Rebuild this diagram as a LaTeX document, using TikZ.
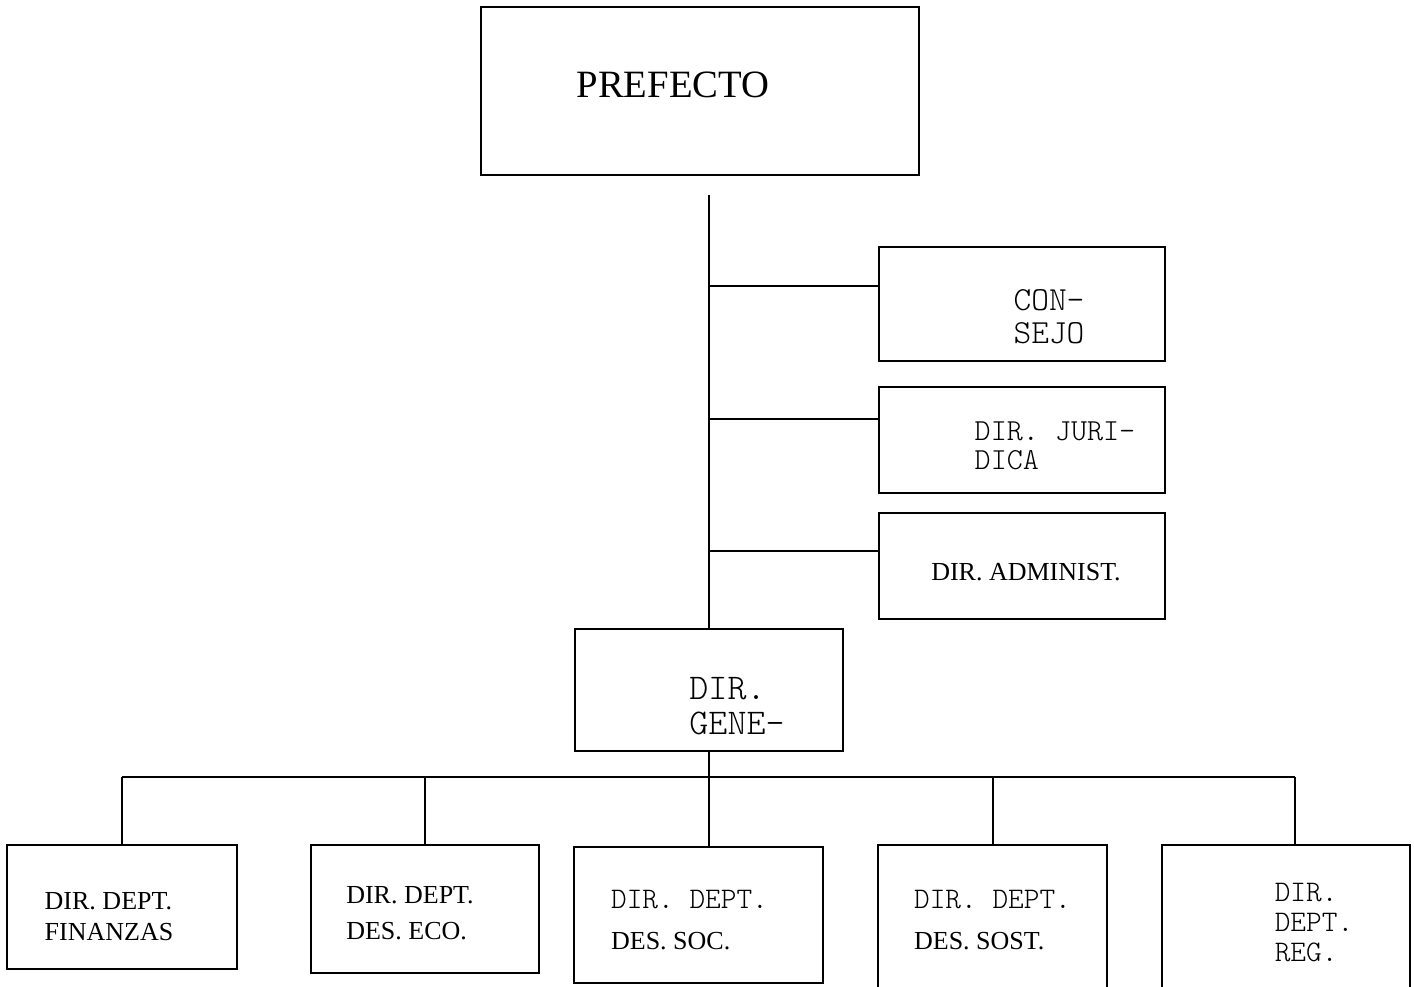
\documentclass[tikz,border=0pt]{standalone}
\usepackage{fontspec}
\setmainfont{Liberation Serif}
\setmonofont{Latin Modern Mono Light}
\usetikzlibrary{positioning}

\tikzset{
	box/.style 2 args={draw, line width=0.8pt, minimum width=#1, minimum height=#2, inner sep=0pt},
	txt/.style={align=left, inner sep=0pt, font=\fontsize{7.4}{8.8}\selectfont},
	ln/.style={line width=0.8pt}
}

\begin{document}
\begin{tikzpicture}
	\useasboundingbox (0,0) rectangle (14.14,-9.86);
	\clip (0,0) rectangle (14.14,-9.86);
	
	% top of the chart
	\node[box={4.38cm}{1.68cm}, label={[txt, font=\fontsize{11}{13}\selectfont, xshift=-0.27cm, yshift=0.06cm]center:PREFECTO}] (prefecto) at (7.00,-0.91) {};
	
	% staff boxes on the right
	\node[box={2.86cm}{1.14cm}, label={[txt, font=\fontsize{9.6}{9.4}\ttfamily, xshift=0.27cm, yshift=-0.13cm]center:{CON-\\SEJO}}] (consejo) at (10.22,-3.04) {};
	\node[box={2.86cm}{1.06cm}, label={[txt, font=\fontsize{8.7}{8.4}\ttfamily, xshift=0.33cm, yshift=-0.06cm]center:{DIR. JURI-\\DICA}}] (juridica) at (10.22,-4.40) {};
	\node[box={2.86cm}{1.06cm}, label={[txt, xshift=0.04cm, yshift=-0.06cm]center:DIR. ADMINIST.}] (administ) at (10.22,-5.66) {};
	
	\node[box={2.68cm}{1.22cm}, label={[txt, font=\fontsize{10.3}{10}\ttfamily, xshift=0.28cm, yshift=-0.16cm]center:{DIR.\\GENE-}}] (gene) at (7.09,-6.90) {};
	
	% departments
	\node[box={2.30cm}{1.24cm}, label={[txt, xshift=-0.13cm, yshift=-0.10cm]center:{DIR. DEPT.\\FINANZAS}}] (fin) at (1.22,-9.07) {};
	\node[box={2.28cm}{1.28cm}, label={[txt, xshift=-0.15cm, yshift=-0.04cm]center:{DIR. DEPT.\\[1.5pt]DES. ECO.}}] (eco) at (4.25,-9.09) {};
	\node[box={2.49cm}{1.36cm}, label={[txt, xshift=-0.09cm, yshift=-0.05cm]center:{{\fontsize{8.5}{8.8}\ttfamily DIR. DEPT.}\\[3pt]DES. SOC.}}] (soc) at (6.985,-9.15) {};
	\node[box={2.29cm}{1.55cm}, label={[txt, xshift=0cm, yshift=0.025cm]center:{{\fontsize{8.5}{8.8}\ttfamily DIR. DEPT.}\\[3pt]DES. SOST.}}] (sost) at (9.925,-9.225) {};
	\node[box={2.48cm}{1.55cm}, label={[txt, font=\fontsize{8.5}{8.5}\ttfamily, xshift=0.28cm, yshift=0cm]center:{DIR.\\DEPT.\\REG.}}] (reg) at (12.86,-9.225) {};
	
	% main line
	\coordinate (top) at (7.09,-1.95);
	\draw[ln] (top) -- (gene.north);
	\foreach \n/\y in {consejo/-2.86, juridica/-4.19, administ/-5.51}
	{
		\coordinate (b\n) at (7.09,\y);
		\draw[ln] (b\n) -- (b\n -| \n.west);
	}
	
	% bus to the departments
	\coordinate (bus) at (7.09,-7.77);
	\draw[ln] (gene.south) -- (bus);
	\foreach \n/\x in {fin/1.22, eco/4.25, soc/7.09, sost/9.93, reg/12.95}
	{
		\coordinate (d\n) at (\x,-7.77);
		\draw[ln] (d\n) -- (d\n |- \n.north);
	}
	\draw[ln] (dfin) -- (dreg);
\end{tikzpicture}
\end{document}
